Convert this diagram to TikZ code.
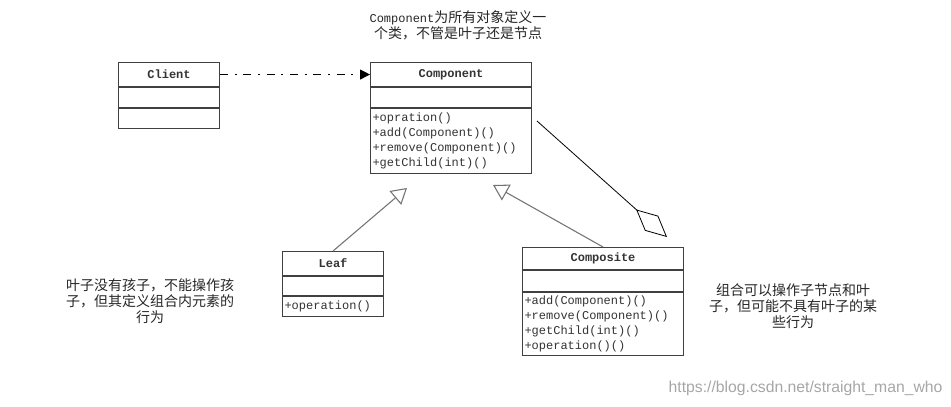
\documentclass[tikz,border=0pt]{standalone}
\usepackage{fontspec}
\setmonofont{Liberation Mono}
\newfontfamily\cjk{Noto Sans CJK SC}
\newfontfamily\marksans{Liberation Sans}
\usetikzlibrary{arrows.meta,positioning}

\begin{document}
\begin{tikzpicture}[
    x=0.75pt, y=-0.75pt,
    head/.style={rectangle, draw=black!75, line width=0.8pt, minimum height=18pt, inner sep=0pt, font=\ttfamily\bfseries\fontsize{9}{11.25}\selectfont, text=black!80},
    attr/.style={rectangle, draw=black!75, line width=0.8pt, minimum height=15pt, inner sep=0pt},
    ops/.style={rectangle, draw=black!75, line width=0.8pt, inner xsep=1.5pt, inner ysep=1pt, align=left, font=\ttfamily\fontsize{9}{11.25}\selectfont, text=black!80},
    note/.style={align=center, font=\cjk\fontsize{10.5}{12}\selectfont, text=black!85},
    depend/.style={-{Triangle[length=7.5pt,width=7.5pt]}, line width=0.8pt, dash pattern=on 6pt off 5pt on 1.5pt off 5pt},
    inherit/.style={-{Triangle[open,length=11.5pt,width=13.5pt]}, draw=black!55, line width=0.8pt},
    aggr/.style={-{Diamond[open,length=31pt,width=15pt]}, line width=0.6pt}
]
\useasboundingbox (0,0) rectangle (951,407);

% Client class
\node[head, minimum width=75.75pt, anchor=north west] (client) at (118,62) {Client};
\node[attr, minimum width=75.75pt, below=0pt of client] (clientAttr) {};
\node[attr, minimum width=75.75pt, below=0pt of clientAttr] (clientOps) {};

% Component class
\node[head, minimum width=120.75pt, anchor=north west] (component) at (370,62) {Component};
\node[attr, minimum width=120.75pt, below=0pt of component] (componentAttr) {};
\node[ops, text width=117.75pt, minimum height=48.75pt, below=0pt of componentAttr] (componentOps) {+opration()\\+add(Component)()\\+remove(Component)()\\+getChild(int)()};

% Leaf class
\node[head, minimum width=75.75pt, anchor=north west] (leaf) at (282,251) {Leaf};
\node[attr, minimum width=75.75pt, minimum height=14.25pt, below=0pt of leaf] (leafAttr) {};
\node[ops, text width=72.75pt, minimum height=15pt, below=0pt of leafAttr] (leafOps) {+operation()};

% Composite class
\node[head, minimum width=120.75pt, minimum height=16.5pt, anchor=north west] (composite) at (522,247) {Composite};
\node[attr, minimum width=120.75pt, minimum height=15.75pt, below=0pt of composite] (compositeAttr) {};
\node[ops, text width=117.75pt, minimum height=47.25pt, below=0pt of compositeAttr] (compositeOps) {+add(Component)()\\+remove(Component)()\\+getChild(int)()\\+operation()()};

% Notes
\node[note] (componentNote) at (458,25) {{\ttfamily\fontsize{9}{12}\selectfont Component}为所有对象定义一\\个类，不管是叶子还是节点};
\node[note] (leafNote) at (150,301) {叶子没有孩子，不能操作孩\\子，但其定义组合内元素的\\行为};
\node[note] (compositeNote) at (793,306) {组合可以操作子节点和叶\\子，但可能不具有叶子的某\\些行为};
\node[anchor=west, font=\marksans\fontsize{11.8}{14}\selectfont, text=black!35] (mark) at (664,388) {https://blog.csdn.net/straight\_man\_who};

% Arrows
\coordinate (leafTip) at (407,188);
\coordinate (compositeTip) at (493,185);
\coordinate (aggrStart) at (537,121);
\coordinate (aggrEnd) at (667,237);
\draw[depend] (client) -- (component);
\draw[inherit] (leaf.north) -- (leafTip);
\draw[inherit] (composite.north) -- (compositeTip);
\draw[aggr] (aggrStart) -- (aggrEnd);

\end{tikzpicture}
\end{document}
